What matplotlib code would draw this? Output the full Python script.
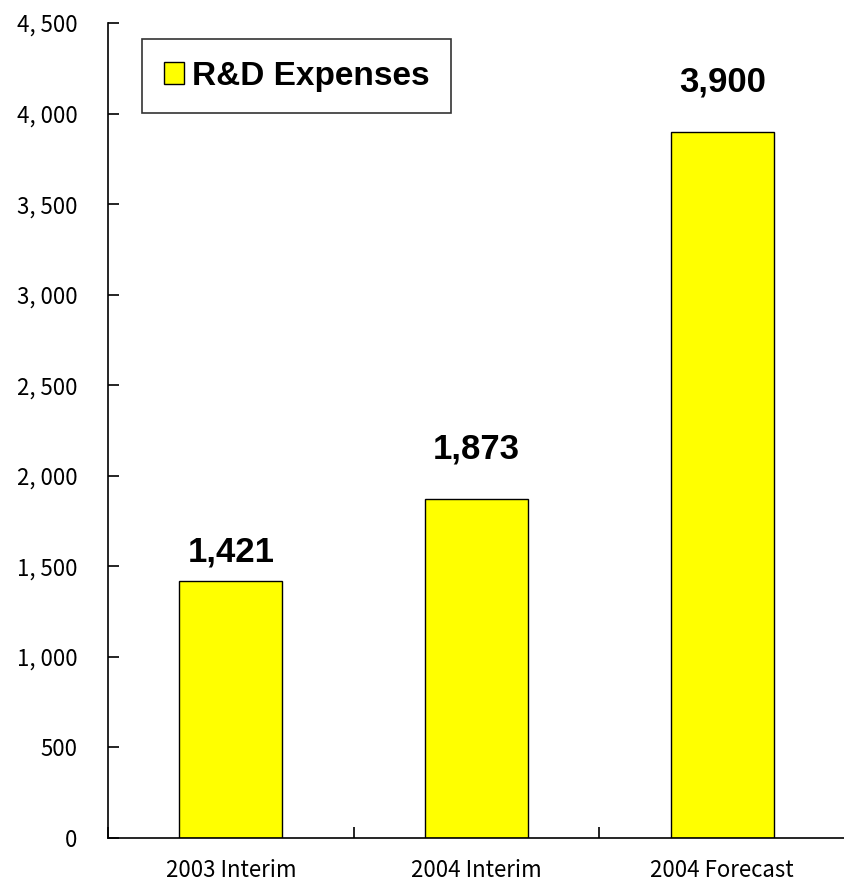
import matplotlib
matplotlib.use("Agg")
import matplotlib.pyplot as plt
from matplotlib.ticker import FixedLocator, FuncFormatter

categories = ["2003 Interim", "2004 Interim", "2004 Forecast"]
values = [1421, 1873, 3900]
value_labels = ["1,421", "1,873", "3,900"]
yticks = [0, 500, 1000, 1500, 2000, 2500, 3000, 3500, 4000, 4500]
series_name = "R&D Expenses"

label_offsets_pt = [9, 24, 24]
tick_family = ["Noto Sans CJK JP", "DejaVu Sans"]

fig = plt.figure(figsize=(8.45, 8.85), dpi=100)
ax = fig.add_axes([108/845, 47/885, 1 - 108/845, (838-23)/885])

x = range(len(categories))
bars = ax.bar(x, values, width=0.42, color="#FFFF00", edgecolor="black",
              linewidth=1.0, label=series_name)

for xi, v, lab, off in zip(x, values, value_labels, label_offsets_pt):
    ax.annotate(lab, (xi, v), xytext=(0, off), textcoords="offset points",
                ha="center", va="bottom", fontsize=25, fontweight="bold",
                family="Liberation Sans")

ax.set_xlim(-0.5, 2.5)
ax.set_ylim(0, 4500)
ax.set_yticks(yticks)
ax.yaxis.set_major_formatter(FuncFormatter(lambda v, p: f"{int(v):,}".replace(",", ", ")))
ax.tick_params(axis="y", direction="in", length=8, width=1.2, pad=22, labelsize=16)
for t in ax.get_yticklabels():
    t.set_family(tick_family)

ax.set_xticks(list(x))
ax.set_xticklabels(categories)
ax.tick_params(axis="x", which="major", length=0, pad=15, labelsize=16)
for t in ax.get_xticklabels():
    t.set_family(tick_family)
ax.xaxis.set_minor_locator(FixedLocator([-0.5, 0.5, 1.5, 2.5]))
ax.tick_params(axis="x", which="minor", direction="in", length=8, width=1.2)

for s in ["top", "right"]:
    ax.spines[s].set_visible(False)
for s in ["left", "bottom"]:
    ax.spines[s].set_linewidth(1.2)

leg = ax.legend(loc="upper left", bbox_to_anchor=((142-108)/737, (838-39)/815),
                prop={"family": "Liberation Sans", "weight": "bold", "size": 24},
                frameon=True, fancybox=False, edgecolor="black",
                handlelength=0.6, handleheight=0.6, handletextpad=0.25,
                borderpad=0.65, borderaxespad=0)
leg.get_frame().set_linewidth(1.2)

fig.savefig("out.png", dpi=100)
